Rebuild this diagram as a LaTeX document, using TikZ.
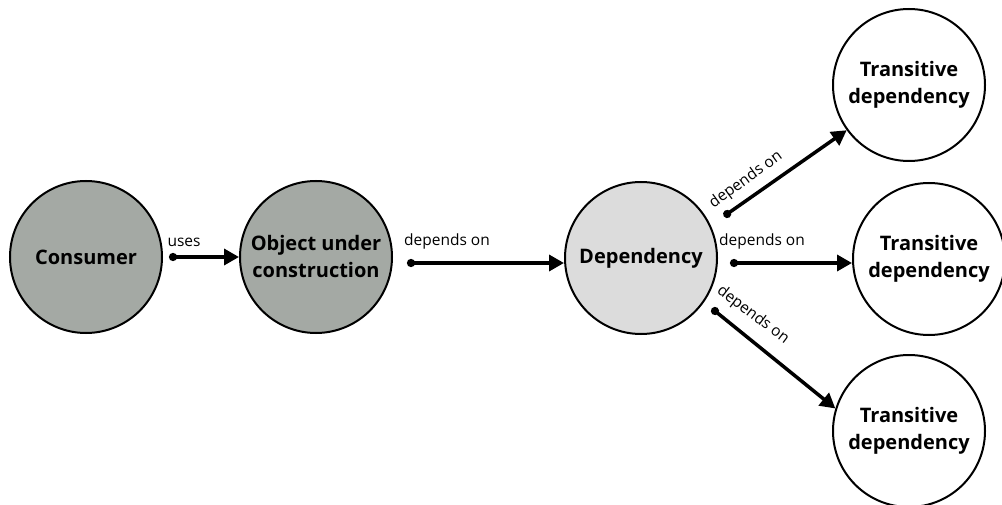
\documentclass[tikz,border=0pt]{standalone}
\usepackage{fontspec}
\setmainfont{Open Sans}
\usetikzlibrary{arrows.meta}

\definecolor{slate}{RGB}{164,169,164}
\definecolor{pale}{RGB}{220,220,220}

\tikzset{
    ball/.style={circle, draw, line width=2pt, minimum size=152pt, inner sep=0pt, align=center, font=\fontsize{20}{27}\selectfont\bfseries},
    link/.style={line width=3.5pt, {Circle[length=8pt]}-{Triangle[length=15pt,width=16pt]}},
    lbl/.style={font=\fontsize{15.5}{18}\selectfont, inner sep=0pt}
}

\begin{document}
\begin{tikzpicture}[x=1pt, y=1pt]
    \useasboundingbox (0,0) rectangle (1002,-505);

    \node [ball, fill = slate] (consumer) at (86,-257) {Consumer};
    \node [ball, fill = slate] (object) at (316,-257) {Object under\\construction};
    \node [ball, fill = pale] (dep) at (641,-258) {Dependency};
    \node [ball, fill = white] (trans1) at (909,-85) {Transitive\\dependency};
    \node [ball, fill = white] (trans2) at (929,-259) {Transitive\\dependency};
    \node [ball, fill = white] (trans3) at (909,-431) {Transitive\\dependency};

    \draw [link, shorten <=6pt] (consumer.east) -- (object.west);
    \draw [link, shorten <=14pt] ([yshift=-6pt]object.east) -- ([yshift=-5pt]dep.west);
    \draw [link, shorten <=16pt] (dep.25) -- (trans1.216);
    \draw [link, shorten <=12pt] ([yshift=-5pt]dep.east) -- ([yshift=-4pt]trans2.west);
    \draw [link, shorten <=10pt] (dep.-35) -- (trans3.163);

    \node [lbl] (uses) at (184,-242) {uses};
    \node [lbl] (on1) at (447,-241) {depends on};
    \node [lbl, rotate=36] (on2) at (746,-180) {depends on};
    \node [lbl] (on3) at (762,-241) {depends on};
    \node [lbl, rotate=-37] (on4) at (753,-315) {depends on};
\end{tikzpicture}
\end{document}
